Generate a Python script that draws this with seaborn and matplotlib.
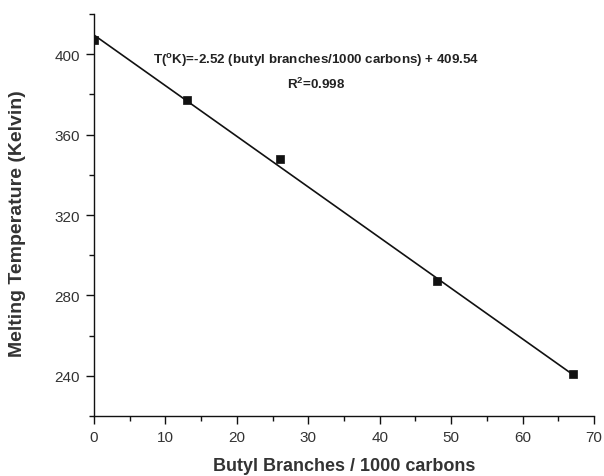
import numpy as np
import pandas as pd
import matplotlib
matplotlib.use("Agg")
import matplotlib.pyplot as plt
import seaborn as sns
from matplotlib.ticker import MultipleLocator

# Data
branches = [0, 13, 26, 48, 67]
melt_temp = [407, 377, 348, 287, 241]
fit_slope = -2.52
fit_intercept = 409.54
r_squared = 0.998

sns.set_theme(style="ticks")
plt.rcParams['font.family'] = ['Liberation Sans', 'DejaVu Sans']
plt.rcParams['mathtext.default'] = 'regular'

df = pd.DataFrame({"x": branches, "y": melt_temp})
fit_x = [min(branches), max(branches)]
fit_df = pd.DataFrame({"x": fit_x, "y": [fit_intercept + fit_slope * v for v in fit_x]})

fig = plt.figure(figsize=(6.04, 4.77), dpi=100)
ax = fig.add_axes([94/604, 1-417/477, 500/604, 402/477])

sns.lineplot(data=fit_df, x="x", y="y", ax=ax, color="#111111", linewidth=1.2)
sns.scatterplot(data=df, x="x", y="y", ax=ax, marker="s", s=40, color="#111111",
                edgecolor="#111111", linewidth=0.5, zorder=3)

ax.set_xlim(0, 70)
ax.set_ylim(220, 420)
ax.xaxis.set_major_locator(MultipleLocator(10))
ax.xaxis.set_minor_locator(MultipleLocator(5))
ax.yaxis.set_major_locator(MultipleLocator(40))
ax.yaxis.set_minor_locator(MultipleLocator(20))
ax.set_yticks([240, 280, 320, 360, 400])

for s in ["top", "right"]:
    ax.spines[s].set_visible(False)
for s in ["left", "bottom"]:
    ax.spines[s].set_color("#111111")
    ax.spines[s].set_linewidth(1.0)

ax.tick_params(axis="both", which="major", direction="out", length=6, width=1.0,
               color="#111111", labelsize=11, labelcolor="#333333", pad=4)
ax.tick_params(axis="both", which="minor", direction="out", length=3.5, width=1.0,
               color="#111111")

ax.set_xlabel("Butyl Branches / 1000 carbons", fontsize=13, fontweight="bold",
              color="#333333")
ax.xaxis.set_label_coords(0.5, -0.102)
ax.set_ylabel("Melting Temperature (Kelvin)", fontsize=14, fontweight="bold",
              color="#333333")
ax.yaxis.set_label_coords(-0.136, 0.48)

ax.text(0.445, 0.886, "T($^o$K)=-2.52 (butyl branches/1000 carbons) + 409.54",
        transform=ax.transAxes, ha="center", va="center", fontsize=9.6,
        fontweight="bold", color="#222222")
ax.text(0.445, 0.828, "R$^2$=0.998", transform=ax.transAxes, ha="center",
        va="center", fontsize=9.6, fontweight="bold", color="#222222")

fig.savefig("out.png", dpi=100)
